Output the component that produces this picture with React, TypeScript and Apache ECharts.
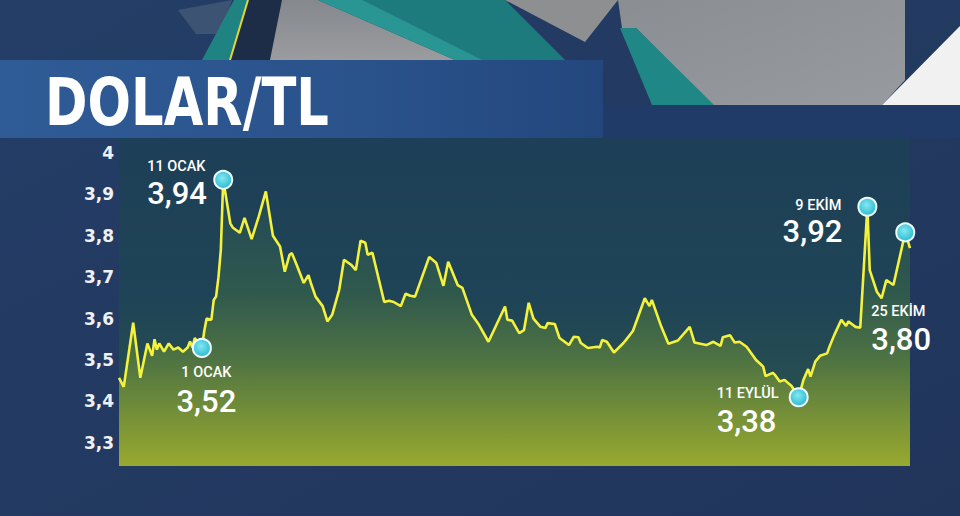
import React, { useEffect, useRef } from 'react';
import * as echarts from 'echarts';

// Day offsets from 1 Jan 2017 and USD/TRY rates
const days = [
  -35, -33, -29, -26, -23, -21, -20, -19, -18, -16, -14, -12, -10, -8, -6, -5, -4, -3,
  0, 1, 2, 4, 5, 6, 7, 8, 9, 12, 13, 16, 18, 21, 24, 27, 30, 33, 35, 37, 38, 40,
  43, 45, 46, 48, 51, 53, 55, 58, 60, 63, 65, 67, 69, 70, 72, 77, 79, 81, 84, 86,
  88, 90, 96, 99, 102, 104, 108, 110, 114, 117, 121, 128, 129, 131, 134, 136, 138, 140,
  143, 145, 146, 149, 151, 155, 157, 159, 160, 163, 167, 168, 169, 171, 174, 178, 179,
  182, 185, 187, 189, 190, 194, 197, 201, 206, 208, 213, 216, 219, 220, 223, 225, 227,
  230, 234, 237, 238, 241, 242, 244, 246, 249, 252, 254, 256, 257, 259, 261, 264, 265,
  267, 270, 272, 273, 276, 278, 281, 282, 285, 287, 289, 292, 297, 299,
];
const rates = [
  3.457, 3.435, 3.59, 3.457, 3.54, 3.51, 3.55, 3.525, 3.54, 3.52, 3.54, 3.525, 3.53, 3.52, 3.53, 3.545, 3.53, 3.553,
  3.529, 3.57, 3.6, 3.597, 3.645, 3.653, 3.7, 3.766, 3.935, 3.83, 3.82, 3.807, 3.843, 3.792, 3.846, 3.907, 3.8, 3.774, 3.713, 3.754, 3.758, 3.73,
  3.686, 3.705, 3.686, 3.653, 3.63, 3.593, 3.609, 3.67, 3.742, 3.73, 3.717, 3.788, 3.783, 3.754, 3.759, 3.64, 3.643, 3.64, 3.63, 3.66,
  3.655, 3.653, 3.749, 3.734, 3.679, 3.737, 3.681, 3.674, 3.609, 3.585, 3.544, 3.629, 3.597, 3.595, 3.565, 3.572, 3.638, 3.6,
  3.58, 3.577, 3.589, 3.587, 3.553, 3.536, 3.556, 3.555, 3.541, 3.529, 3.532, 3.53, 3.548, 3.544, 3.518, 3.541, 3.548,
  3.57, 3.617, 3.649, 3.63, 3.645, 3.58, 3.539, 3.547, 3.58, 3.542, 3.536, 3.544, 3.534, 3.555, 3.56, 3.542, 3.544,
  3.532, 3.5, 3.484, 3.461, 3.469, 3.464, 3.448, 3.452, 3.437, 3.41, 3.452, 3.478, 3.46, 3.496, 3.51, 3.516, 3.532,
  3.56, 3.597, 3.582, 3.593, 3.58, 3.578, 3.87, 3.717, 3.665, 3.649, 3.693, 3.681, 3.808, 3.77,
];
const yTicks = [3.3, 3.4, 3.5, 3.6, 3.7, 3.8, 3.9, 4];

// Highlighted points
const hlDays = [0, 9, 252, 281, 297];
const hlDates = ['1 OCAK', '11 OCAK', '11 EYLÜL', '9 EKİM', '25 EKİM'];
const hlQuotes = [3.52, 3.94, 3.38, 3.92, 3.8];

const DAY = 86400000;
const BASE = Date.UTC(2017, 0, 1);
const ts = (d: number) => BASE + d * DAY;
const comma = (s: string) => s.replace('.', ',');

// label placement relative to each marker (layout only)
const labelLayout: { align: string; date: number[]; value: number[] }[] = [
  { align: 'center', date: [4.5, 25], value: [4.5, 53.5] },
  { align: 'left', date: [-76, -13], value: [-76, 14] },
  { align: 'left', date: [-82, -4.2], value: [-82, 24.3] },
  { align: 'right', date: [-26, -1], value: [-25, 25] },
  { align: 'left', date: [-34, 79.2], value: [-34, 106.7] },
];

export default function App() {
  const ref = useRef<HTMLDivElement>(null);
  useEffect(() => {
    if (!ref.current) return;
    const chart = echarts.init(ref.current, null, { renderer: 'svg' });
    const G = echarts.graphic;
    const lineData = days.map((d, i) => [ts(d), rates[i]]);
    const hlPoint = (d: number) => [ts(d), rates[days.indexOf(d)]];

    chart.setOption({
      animation: false,
      backgroundColor: '#22375e',
      graphic: [
        { type: 'rect', z: 0, shape: { x: 0, y: 0, width: 960, height: 516 }, style: { fill: new G.LinearGradient(0, 0, 1, 1, [{ offset: 0, color: '#243e67' }, { offset: 1, color: '#21355b' }]) } },
        { type: 'polygon', z: 0, shape: { points: [[178, 10], [232, 0], [222, 34], [196, 34]] }, style: { fill: '#3d5373' } },
        { type: 'polygon', z: 0, shape: { points: [[246, 0], [284, 0], [272, 60], [228, 60]] }, style: { fill: '#1d2d47' } },
        { type: 'polygon', z: 0, shape: { points: [[234, 0], [248, 0], [230, 60], [202, 60]] }, style: { fill: '#1f8382' } },
        { type: 'line', z: 0, shape: { x1: 248, y1: 0, x2: 230, y2: 60 }, style: { stroke: '#e4d43a', lineWidth: 2 } },
        { type: 'polygon', z: 0, shape: { points: [[282, 0], [318, 0], [455, 60], [270, 60]] }, style: { fill: new G.LinearGradient(0, 0, 0, 1, [{ offset: 0, color: '#85888d' }, { offset: 1, color: '#9a9c9f' }]) } },
        { type: 'polygon', z: 0, shape: { points: [[318, 0], [505, 0], [565, 60], [455, 60]] }, style: { fill: '#1e7b7d' } },
        { type: 'polygon', z: 0, shape: { points: [[318, 0], [362, 0], [482, 60], [455, 60]] }, style: { fill: '#2a9694' } },
        { type: 'polygon', z: 0, shape: { points: [[505, 0], [618, 0], [585, 42]] }, style: { fill: '#8e8f91' } },
        { type: 'polygon', z: 0, shape: { points: [[618, 0], [905, 0], [905, 80], [882, 105], [712, 105], [636, 28], [622, 28]] }, style: { fill: new G.LinearGradient(0, 0, 1, 1, [{ offset: 0, color: '#8a8d92' }, { offset: 1, color: '#979a9e' }]) } },
        { type: 'polygon', z: 0, shape: { points: [[620, 28], [636, 28], [714, 105], [652, 105]] }, style: { fill: '#1f8785' } },
        { type: 'polygon', z: 0, shape: { points: [[960, 26], [882, 105], [960, 105]] }, style: { fill: '#f1f1f1' } },
        { type: 'rect', z: 0, shape: { x: 0, y: 60, width: 603, height: 78 }, style: { fill: new G.LinearGradient(0, 0, 1, 0, [{ offset: 0, color: '#2f5b96' }, { offset: 0.6, color: '#2a528b' }, { offset: 1, color: '#23477d' }]) } },
        { type: 'rect', z: 0, shape: { x: 603, y: 105, width: 357, height: 33 }, style: { fill: '#213b68' } },
        { type: 'text', z: 1, x: 45, y: 102, scaleX: 0.8, scaleY: 1.03, style: { text: 'DOLAR/TL', fill: '#ffffff', fontSize: 64, fontWeight: 'bold', fontFamily: 'DejaVu Sans', verticalAlign: 'middle', align: 'left' } },
        { type: 'rect', z: 0, shape: { x: 119, y: 138, width: 791, height: 328 }, style: { fill: new G.LinearGradient(0, 0, 0, 1, [{ offset: 0, color: '#1d3f57' }, { offset: 0.5, color: '#1f4456' }, { offset: 0.8, color: '#285150' }, { offset: 1, color: '#3a6446' }]) } },
      ],
      grid: { left: 119, right: 50, top: 138, bottom: 50, containLabel: false },
      xAxis: { type: 'time', min: ts(-35), max: ts(299), show: false },
      yAxis: {
        type: 'value', min: 3.244, max: 4.036,
        axisLine: { show: false }, axisTick: { show: false }, splitLine: { show: false },
        axisLabel: {
          customValues: yTicks,
          formatter: (v: number) => comma(String(v)),
          color: '#eef2f7', fontFamily: 'DejaVu Sans', fontWeight: 'bold', fontSize: 17, margin: 5,
        },
      },
      series: [
        {
          type: 'line', z: 3, silent: true, showSymbol: false, symbol: 'none',
          data: lineData,
          lineStyle: { color: '#f4f23c', width: 2.6 },
          areaStyle: {
            opacity: 1,
            origin: 'start',
            color: new G.LinearGradient(0, 0, 0, 1, [
              { offset: 0, color: '#21475a' },
              { offset: 0.4, color: '#30594d' },
              { offset: 0.62, color: '#4d7243' },
              { offset: 0.85, color: '#7a9436' },
              { offset: 1, color: '#98a92f' },
            ]),
          },
        },
        {
          type: 'scatter', z: 4, silent: true, symbolSize: 17,
          itemStyle: { color: 'rgba(0,0,0,0)', borderWidth: 0, opacity: 1 },
          data: hlDays.map((d, i) => ({
            value: hlPoint(d),
            label: {
              show: true, position: 'inside', align: labelLayout[i].align, verticalAlign: 'middle',
              offset: labelLayout[i].value, formatter: comma(hlQuotes[i].toFixed(2)),
              color: '#ffffff', opacity: 1, fontFamily: 'Roboto', fontWeight: 500, fontSize: 31, lineHeight: 31,
            },
          })),
        },
        {
          type: 'scatter', z: 5, silent: true, symbol: 'circle', symbolSize: 18,
          itemStyle: {
            opacity: 1,
            color: new G.RadialGradient(0.45, 0.4, 0.6, [{ offset: 0, color: '#82e8f2' }, { offset: 1, color: '#2cbad0' }]),
            borderColor: '#eefcff', borderWidth: 2,
          },
          data: hlDays.map((d, i) => ({
            value: hlPoint(d),
            label: {
              show: true, position: 'inside', align: labelLayout[i].align, verticalAlign: 'middle',
              offset: labelLayout[i].date, formatter: hlDates[i],
              color: '#ffffff', opacity: 1, fontFamily: 'Roboto', fontWeight: 500, fontSize: 14.5, lineHeight: 15,
            },
          })),
        },
      ],
    });
    return () => chart.dispose();
  }, []);
  return <div ref={ref} style={{ position: 'fixed', left: 0, top: 0, width: 960, height: 516 }} />;
}
